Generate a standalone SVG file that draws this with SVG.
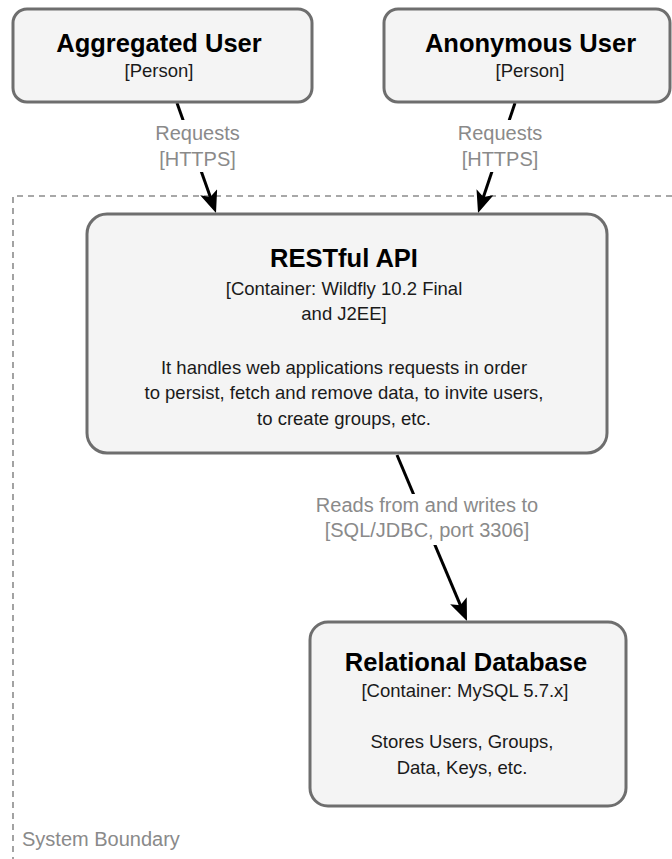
<svg xmlns="http://www.w3.org/2000/svg" width="672" height="859" viewBox="0 0 672 859">
  <style>
    text { font-family: "Liberation Sans", Arial, Helvetica, sans-serif; text-anchor: middle; }
    .box { fill: #f4f4f4; stroke: #6e6e6e; stroke-width: 3; }
    .title { font-size: 25.5px; font-weight: bold; fill: #000; }
    .sub { font-size: 18.5px; fill: #1a1a1a; }
    .body { font-size: 18.5px; fill: #1a1a1a; }
    .lbl { font-size: 20px; fill: #8a8a8a; }
    .edge { stroke: #000; stroke-width: 3; fill: none; }
    .lblbg { fill: #fff; }
    .boundary { fill: none; stroke: #8c8c8c; stroke-width: 1.6; stroke-dasharray: 6 5; }
  </style>
  <defs>
    <marker id="arrow" markerUnits="userSpaceOnUse" markerWidth="22" markerHeight="18" viewBox="0 0 22 18" refX="13" refY="9" orient="auto">
      <path d="M0,0 L22,9 L0,18 L5,9 z" fill="#000"/>
    </marker>
  </defs>

  <rect width="672" height="859" fill="#fff"/>

  <!-- system boundary (dashed, open to the right and bottom) -->
  <g id="system-boundary">
    <path class="boundary" d="M672,196 L13,196 L13,859"/>
    <text x="22" y="846" class="lbl" style="text-anchor:start">System Boundary</text>
  </g>

  <!-- connectors -->
  <g id="connectors">
    <line class="edge" x1="177" y1="103" x2="213" y2="204.5" marker-end="url(#arrow)"/>
    <line class="edge" x1="515" y1="103" x2="480.9" y2="204.5" marker-end="url(#arrow)"/>
    <line class="edge" x1="397" y1="455" x2="463.5" y2="612.7" marker-end="url(#arrow)"/>

    <rect class="lblbg" x="152" y="120" width="92" height="52"/>
    <text class="lbl" x="197.5" y="140">Requests</text>
    <text class="lbl" x="197.5" y="165.5">[HTTPS]</text>

    <rect class="lblbg" x="455" y="120" width="92" height="52"/>
    <text class="lbl" x="500" y="140">Requests</text>
    <text class="lbl" x="500" y="165.5">[HTTPS]</text>

    <rect class="lblbg" x="312" y="494" width="230" height="51"/>
    <text class="lbl" x="427" y="511.5">Reads from and writes to</text>
    <text class="lbl" x="427" y="537">[SQL/JDBC, port 3306]</text>
  </g>

  <g id="aggregated-user">
    <rect class="box" x="13" y="9" width="299" height="93" rx="14" ry="14"/>
    <text class="title" x="159" y="51.5">Aggregated User</text>
    <text class="sub" x="159" y="77">[Person]</text>
  </g>

  <g id="anonymous-user">
    <rect class="box" x="384" y="9" width="286" height="93" rx="14" ry="14"/>
    <text class="title" x="530.5" y="51.5">Anonymous User</text>
    <text class="sub" x="530" y="77">[Person]</text>
  </g>

  <g id="restful-api">
    <rect class="box" x="87" y="214" width="520" height="239" rx="20" ry="20"/>
    <text class="title" x="344" y="267">RESTful API</text>
    <text class="sub" x="344" y="294.5">[Container: Wildfly 10.2 Final</text>
    <text class="sub" x="344" y="320">and J2EE]</text>
    <text class="body" x="344" y="373.5">It handles web applications requests in order</text>
    <text class="body" x="344" y="399">to persist, fetch and remove data, to invite users,</text>
    <text class="body" x="344" y="425">to create groups, etc.</text>
  </g>

  <g id="relational-database">
    <rect class="box" x="310" y="622" width="316" height="184" rx="18" ry="18"/>
    <text class="title" x="466" y="670.5">Relational Database</text>
    <text class="sub" x="465" y="696.5">[Container: MySQL 5.7.x]</text>
    <text class="body" x="462" y="748">Stores Users, Groups,</text>
    <text class="body" x="462" y="774">Data, Keys, etc.</text>
  </g>
</svg>
